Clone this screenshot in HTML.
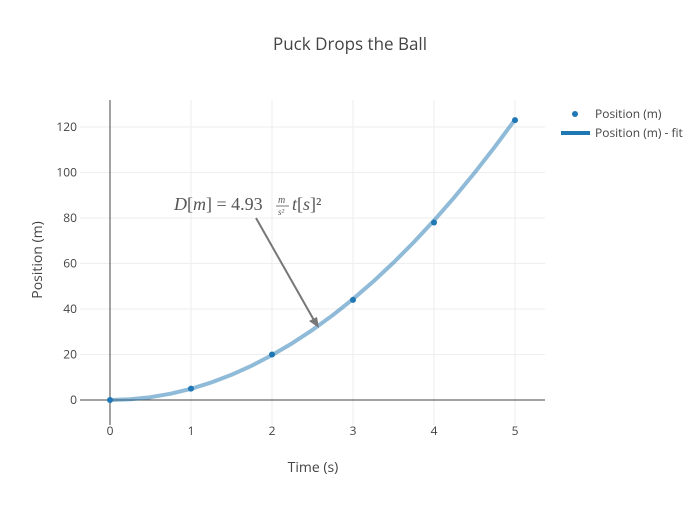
<!DOCTYPE html>
<html><head><meta charset="utf-8"><style>
body{margin:0;background:#fff;}
svg{font-family:"Open Sans","Liberation Sans",sans-serif;}
</style></head><body>
<svg id="chart" width="700" height="500" xmlns="http://www.w3.org/2000/svg">
<text x="350" y="50" text-anchor="middle" font-size="17" fill="#444">Puck Drops the Ball</text>
<g id="grid"></g>
<g id="axes"></g>
<g id="marks"></g>
<text x="313" y="472" text-anchor="middle" font-size="14" fill="#444">Time (s)</text>
<text transform="translate(42,260) rotate(-90)" text-anchor="middle" font-size="14" fill="#444">Position (m)</text>
<g>
<text x="174" y="210" font-family="'Liberation Serif',serif" font-size="18" fill="#555"><tspan font-style="italic">D</tspan>[<tspan font-style="italic">m</tspan>] =  4.93</text>
<text x="278" y="203" font-family="'Liberation Serif',serif" font-size="10" font-style="italic" fill="#555">m</text>
<line x1="276" y1="206" x2="289" y2="206" stroke="#555" stroke-width="0.8"/>
<text x="278" y="215" font-family="'Liberation Serif',serif" font-size="9" font-style="italic" fill="#555">s²</text>
<text x="292" y="210" font-family="'Liberation Serif',serif" font-size="18" fill="#555"><tspan font-style="italic">t</tspan>[<tspan font-style="italic">s</tspan>]²</text>
<line x1="256" y1="218" x2="315" y2="322" stroke="#777" stroke-width="2"/>
<polygon points="319,328 309,321 317,317" fill="#777"/>
</g>
<g>
<circle cx="575" cy="114" r="3" fill="#1f77b4"/>
<text x="595" y="118" font-size="12" fill="#444">Position (m)</text>
<line x1="561" y1="133" x2="590" y2="133" stroke="#1f77b4" stroke-width="4"/>
<text x="595" y="137" font-size="12" fill="#444">Position (m) - fit</text>
</g>
</svg>
<script>
const xTicks=[0,1,2,3,4,5];
const yTicks=[0,20,40,60,80,100,120];
const pointT=[0,1,2,3,4,5];
const pointD=[0,5,20,44,78,123];
const fitT=[0,0.25,0.5,0.75,1,1.25,1.5,1.75,2,2.25,2.5,2.75,3,3.25,3.5,3.75,4,4.25,4.5,4.75,5];
const fitD=[0,0.31,1.23,2.77,4.93,7.70,11.09,15.10,19.72,24.96,30.81,37.28,44.37,52.07,60.39,69.33,78.88,89.05,99.83,111.23,123.25];
const NS="http://www.w3.org/2000/svg";
const X0=80,X1=545,Y0=425,Y1=100;
const xs=v=>110+v*81;
const ys=v=>400-v*2.275;
function mk(tag,attrs,parent){const e=document.createElementNS(NS,tag);for(const k in attrs)e.setAttribute(k,attrs[k]);document.getElementById(parent).appendChild(e);return e;}
xTicks.forEach(t=>{
 if(t!==0){const g=mk('line',{x1:xs(t),x2:xs(t),y1:Y1,y2:Y0,stroke:'#eee'},'grid');
 
 }
 const l=mk('text',{x:xs(t),y:435,'text-anchor':'middle','font-size':12,fill:'#444'},'axes');l.textContent=t;
 
 
});
yTicks.forEach(t=>{
 if(t!==0){const g=mk('line',{x1:X0,x2:X1,y1:ys(t),y2:ys(t),stroke:'#eee'},'grid');
 
 }
 const l=mk('text',{x:77,y:ys(t)+4,'text-anchor':'end','font-size':12,fill:'#444'},'axes');l.textContent=t;
 
 
});
const zx=mk('line',{x1:X0,x2:X1,y1:ys(0),y2:ys(0),stroke:'#444'},'axes');


const zy=mk('line',{x1:xs(0),x2:xs(0),y1:Y1,y2:Y0,stroke:'#444'},'axes');


const fit=mk('polyline',{points:fitT.map((t,i)=>xs(t)+','+ys(fitD[i])).join(' '),fill:'none',stroke:'#1f77b4','stroke-opacity':0.5,'stroke-width':4,'stroke-linejoin':'round'},'marks');


pointT.forEach((t,i)=>{
 const c=mk('circle',{cx:xs(t),cy:ys(pointD[i]),r:3,fill:'#1f77b4'},'marks');
 
 
});
</script>
</body></html>
